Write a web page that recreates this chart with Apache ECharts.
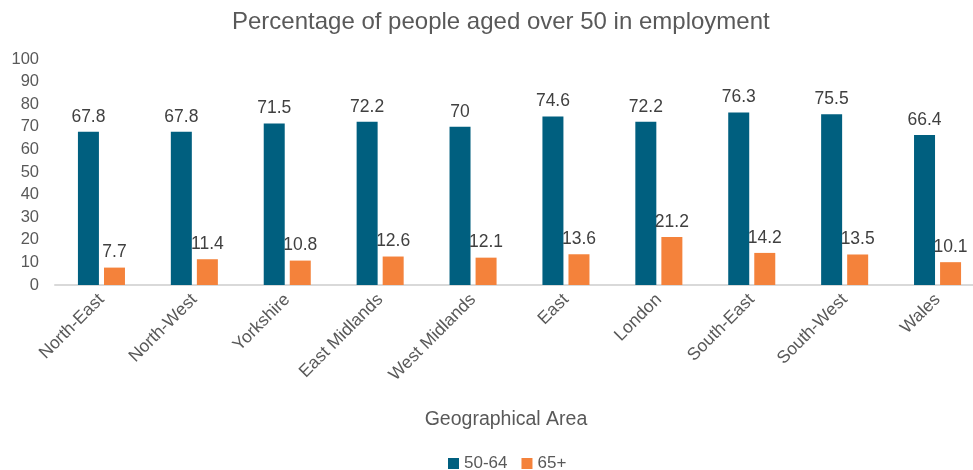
<!DOCTYPE html>
<html>
<head>
<meta charset="utf-8">
<script src="https://cdn.jsdelivr.net/npm/echarts@6/dist/echarts.min.js"></script>
<style>html,body{margin:0;padding:0;background:#fff}#c{width:973px;height:470px}</style>
</head>
<body>
<div id="c"></div>
<script>
const categories = ["North-East","North-West","Yorkshire","East Midlands","West Midlands","East","London","South-East","South-West","Wales"];
const series5064 = [67.8,67.8,71.5,72.2,70,74.6,72.2,76.3,75.5,66.4];
const series65 = [7.7,11.4,10.8,12.6,12.1,13.6,21.2,14.2,13.5,10.1];
const yTicks = {min:0,max:100,interval:10};

const font = "'Liberation Sans', Arial, sans-serif";
const chart = echarts.init(document.getElementById('c'));
const lbl = {show:true,position:'top',distance:6,color:'#404040',fontSize:17.5,fontFamily:font};
chart.setOption({
  animation:false,
  title:{text:'Percentage of people aged over 50 in employment',left:227,top:5,
    textStyle:{color:'#595959',fontSize:24,fontWeight:'normal',fontFamily:font}},
  legend:{top:450,left:443,itemWidth:11,itemHeight:11,itemGap:14,icon:'rect',
    textStyle:{color:'#595959',fontSize:17,fontFamily:font}},
  grid:{left:55,width:929,top:59,bottom:185,containLabel:false,outerBoundsMode:'none'},
  xAxis:{type:'category',data:categories,
    axisLine:{lineStyle:{color:'#d9d9d9',width:2}},axisTick:{show:false},
    axisLabel:{rotate:45,color:'#595959',fontSize:17.5,fontFamily:font,interval:0,margin:12},
    name:'Geographical Area',nameLocation:'middle',nameGap:125,
    nameTextStyle:{color:'#595959',fontSize:19.5,fontFamily:font,padding:[0,0,0,-27]}},
  yAxis:{type:'value',min:yTicks.min,max:yTicks.max,interval:yTicks.interval,
    splitLine:{show:false},axisLine:{show:false},axisTick:{show:false},
    axisLabel:{color:'#595959',fontSize:16.5,fontFamily:font,margin:16}},
  series:[
    {name:'50-64',type:'bar',data:series5064,barWidth:21,barGap:'24%',itemStyle:{color:'#005f7f'},label:lbl},
    {name:'65+',type:'bar',data:series65,barWidth:21,itemStyle:{color:'#f4823b'},label:lbl}
  ]
});
</script>
</body>
</html>
